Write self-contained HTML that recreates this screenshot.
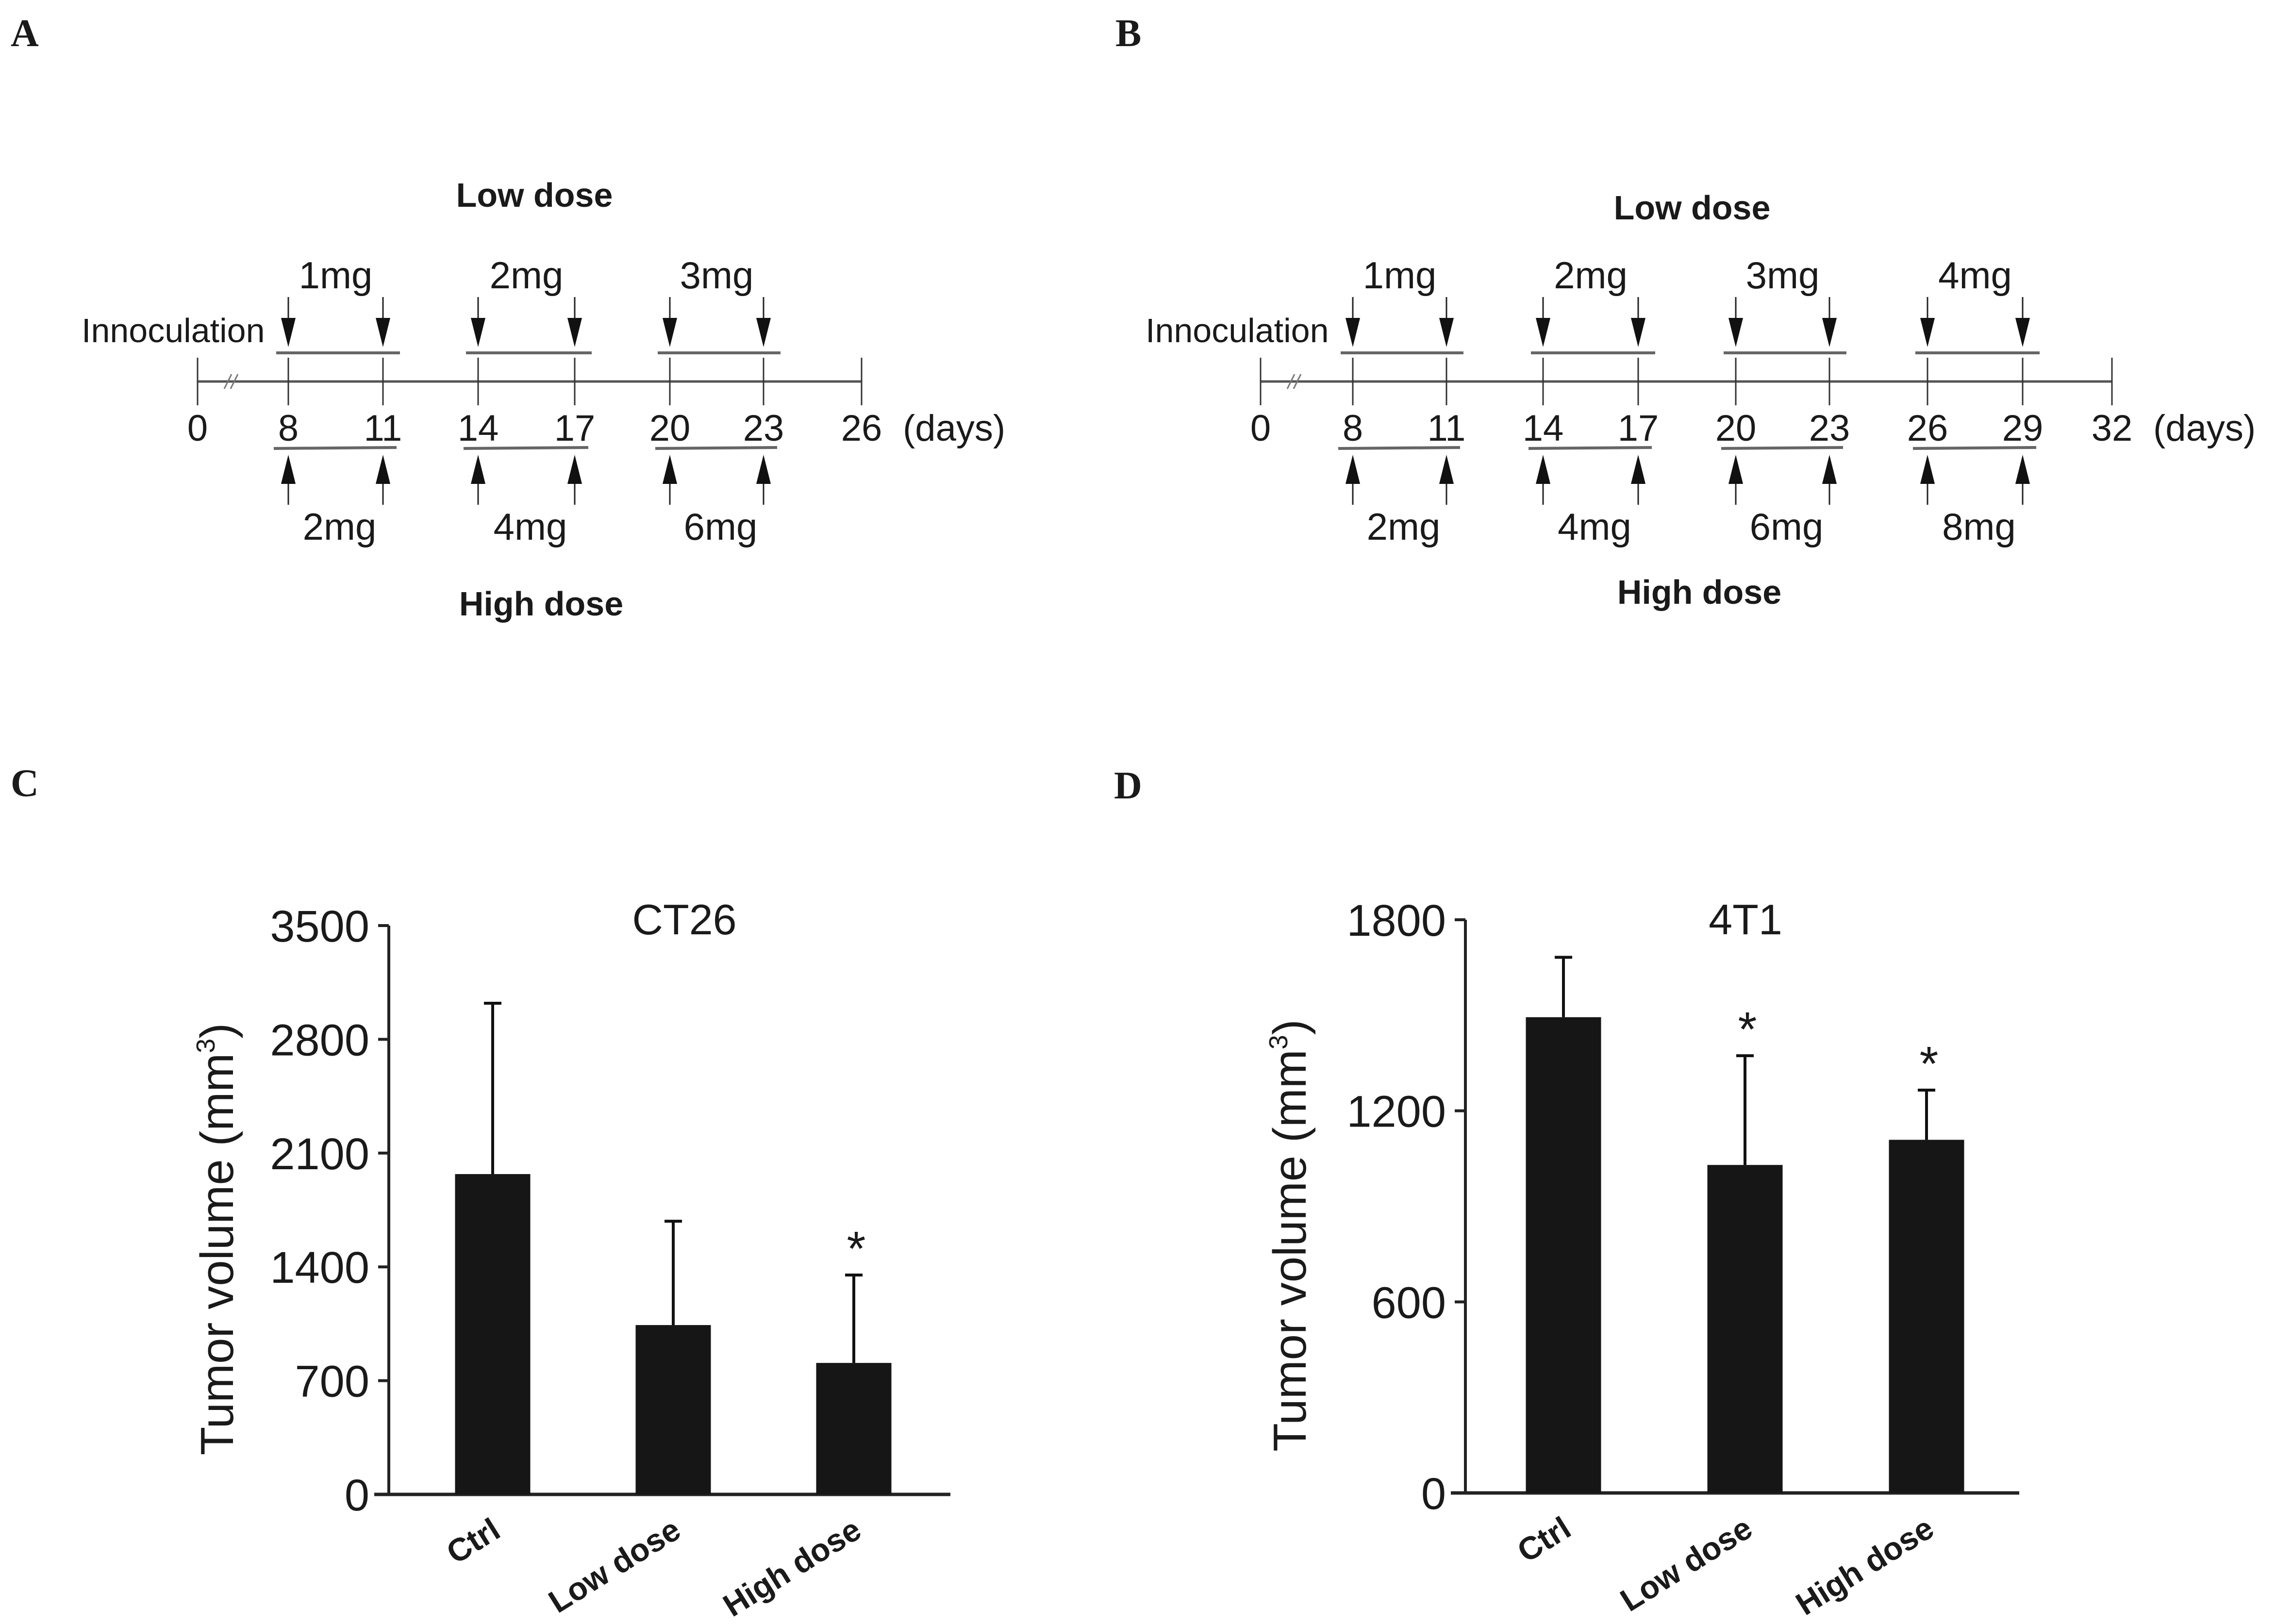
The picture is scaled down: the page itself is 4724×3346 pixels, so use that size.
<!DOCTYPE html>
<html><head><meta charset="utf-8"><style>
html,body{margin:0;padding:0;background:#fff;}
svg{display:block;}
text{font-family:"Liberation Sans",sans-serif;fill:#1a1a1a;}
</style></head><body>
<svg id="fig" width="4724" height="3346" viewBox="0 0 4724 3346" xmlns="http://www.w3.org/2000/svg">
<text x="22" y="95" font-weight="bold" font-size="80" style="font-family:'Liberation Serif',serif">A</text>
<text x="2298" y="95" font-weight="bold" font-size="80" style="font-family:'Liberation Serif',serif">B</text>
<text x="22" y="1640" font-weight="bold" font-size="80" style="font-family:'Liberation Serif',serif">C</text>
<text x="2295" y="1645" font-weight="bold" font-size="80" style="font-family:'Liberation Serif',serif">D</text>
</svg>
<script>
// ---- Timeline data ----
var daysA = [0, 8, 11, 14, 17, 20, 23, 26];
var daysAx = [407, 594, 789, 985, 1184, 1380, 1573, 1775];
var lowDosesA = ["1mg", "2mg", "3mg"];
var highDosesA = ["2mg", "4mg", "6mg"];
var daysB = [0, 8, 11, 14, 17, 20, 23, 26, 29, 32];
var daysBx = [2597, 2787, 2980, 3179, 3375, 3576, 3769, 3971, 4167, 4351];
var lowDosesB = ["1mg", "2mg", "3mg", "4mg"];
var highDosesB = ["2mg", "4mg", "6mg", "8mg"];

// ---- Bar chart data ----
var categories = ["Ctrl", "Low dose", "High dose"];
var ct26Values = [1971, 1042, 809];
var ct26Err = [1051, 639, 541];
var ct26Sig = [false, false, true];
var ct26Ticks = [0, 700, 1400, 2100, 2800, 3500];
var t41Values = [1494, 1030, 1109];
var t41Err = [188, 343, 156];
var t41Sig = [false, true, true];
var t41Ticks = [0, 600, 1200, 1800];

var NS = "http://www.w3.org/2000/svg";
var svg = document.getElementById("fig");
function mk(tag, attrs, parent) {
  var e = document.createElementNS(NS, tag);
  for (var k in attrs) e.setAttribute(k, attrs[k]);
  (parent || svg).appendChild(e);
  return e;
}
function txt(x, y, s, size, extra, parent) {
  var t = mk("text", Object.assign({x: x, y: y, "font-size": size}, extra || {}), parent);
  t.textContent = s;
  return t;
}

function timeline(name, days, xs, lowD, highD, lowTitle, highTitle, innoX) {
  var g = mk("g", {});
  
  
  var y = 786;
  var ln = mk("line", {x1: xs[0], y1: y, x2: xs[xs.length - 1], y2: y, stroke: "#555", "stroke-width": 5}, g);
  
  
  mk("line", {x1: xs[0] + 55, y1: y + 15, x2: xs[0] + 70, y2: y - 15, stroke: "#777", "stroke-width": 3}, g);
  mk("line", {x1: xs[0] + 68, y1: y + 15, x2: xs[0] + 83, y2: y - 15, stroke: "#777", "stroke-width": 3}, g);
  for (var i = 0; i < days.length; i++) {
    var tk = mk("line", {x1: xs[i], y1: 737, x2: xs[i], y2: 835, stroke: "#333", "stroke-width": 3}, g);
    
    
    var lb = txt(xs[i], 908, String(days[i]), 76, {"text-anchor": "middle"}, g);
    
    
  }
  var dl = txt(xs[xs.length - 1] + 85, 908, "(days)", 76, {}, g);
  
  
  for (var j = 0; j < lowD.length; j++) {
    var a = xs[1 + 2 * j], b = xs[2 + 2 * j];
    [a, b].forEach(function (x) {
      var ar = mk("g", {}, g);
      
      
      mk("line", {x1: x, y1: 612, x2: x, y2: 680, stroke: "#222", "stroke-width": 3}, ar);
      mk("polygon", {points: (x - 15) + ",655 " + (x + 15) + ",655 " + x + ",715", fill: "#111"}, ar);
      var ar2 = mk("g", {}, g);
      
      
      mk("line", {x1: x, y1: 970, x2: x, y2: 1040, stroke: "#222", "stroke-width": 3}, ar2);
      mk("polygon", {points: (x - 15) + ",997 " + (x + 15) + ",997 " + x + ",937", fill: "#111"}, ar2);
    });
    var br = mk("line", {x1: a - 25, y1: 727, x2: b + 35, y2: 727, stroke: "#666", "stroke-width": 6}, g);
    
    
    var br2 = mk("line", {x1: a - 30, y1: 924, x2: b + 28, y2: 922, stroke: "#666", "stroke-width": 6}, g);
    
    
    var m = txt((a + b) / 2, 594, lowD[j], 78, {"text-anchor": "middle"}, g);
    
    
    var m2 = txt((a + b) / 2 + 8, 1112, highD[j], 78, {"text-anchor": "middle"}, g);
    
    
  }
  var inn = txt(innoX, 705, "Innoculation", 70, {}, g);
  
  
  var lt = txt(lowTitle[0], lowTitle[1], "Low dose", 70, {"text-anchor": "middle", "font-weight": "bold"}, g);
  
  
  var ht = txt(highTitle[0], highTitle[1], "High dose", 70, {"text-anchor": "middle", "font-weight": "bold"}, g);
  
  
}
timeline("timeline-a", daysA, daysAx, lowDosesA, highDosesA, [1101, 426], [1115, 1268], 168);
timeline("timeline-b", daysB, daysBx, lowDosesB, highDosesB, [3486, 452], [3501, 1244], 2360);

function barChart(name, title, vals, errs, sig, ticks, ax) {
  var g = mk("g", {});
  
  
  var maxV = ticks[ticks.length - 1];
  function yS(v) { return ax.y0 - (v / maxV) * (ax.y0 - ax.yTop); }
  var yl = mk("line", {x1: ax.x0, y1: ax.yTop, x2: ax.x0, y2: ax.y0, stroke: "#222", "stroke-width": 6}, g);
  
  
  var xl = mk("line", {x1: ax.x0 - 30, y1: ax.y0, x2: ax.xEnd, y2: ax.y0, stroke: "#222", "stroke-width": 7}, g);
  
  
  ticks.forEach(function (t) {
    var y = yS(t);
    var tk = mk("line", {x1: ax.x0 - 22, y1: y, x2: ax.x0, y2: y, stroke: "#222", "stroke-width": 6}, g);
    
    
    var tl = txt(ax.x0 - 40, y + 33, String(t), 92, {"text-anchor": "end"}, g);
    
    
  });
  var bw = 155;
  for (var i = 0; i < vals.length; i++) {
    var cx = ax.x0 + ax.firstC + i * ax.step;
    var top = yS(vals[i]);
    var eTop = yS(vals[i] + errs[i]);
    var el = mk("line", {x1: cx, y1: eTop, x2: cx, y2: top, stroke: "#111", "stroke-width": 6}, g);
    
    
    var ec = mk("line", {x1: cx - 18, y1: eTop, x2: cx + 18, y2: eTop, stroke: "#111", "stroke-width": 6}, g);
    
    
    var r = mk("rect", {x: cx - bw / 2, y: top, width: bw, height: ax.y0 - top, fill: "#161616"}, g);
    
    
    if (sig[i]) {
      var s = txt(cx + 5, eTop - 20, "*", 100, {"text-anchor": "middle"}, g);
      
      
    }
    var lx = cx + 20, ly = ax.y0 + 85;
    var cl = txt(lx, ly, categories[i], 66, {"text-anchor": "end", "font-weight": "bold", transform: "rotate(-32 " + lx + " " + ly + ")"}, g);
    
    
  }
  var tt = txt(ax.titleX, 1925, title, 88, {"text-anchor": "middle"}, g);
  
  
  var yc = (ax.y0 + ax.yTop) / 2 + 60;
  var ylab = mk("text", {x: ax.yLabX, y: yc, "font-size": 96, "text-anchor": "middle", transform: "rotate(-90 " + ax.yLabX + " " + yc + ")"}, g);
  
  
  ylab.innerHTML = 'Tumor volume (mm<tspan font-size="54" dy="-38">3</tspan><tspan dy="38">)</tspan>';
}
barChart("chart-ct26", "CT26", ct26Values, ct26Err, ct26Sig, ct26Ticks,
  {x0: 801, y0: 3079, yTop: 1907, xEnd: 1958, firstC: 214, step: 372, titleX: 1410, yLabX: 480});
barChart("chart-4t1", "4T1", t41Values, t41Err, t41Sig, t41Ticks,
  {x0: 3019, y0: 3076, yTop: 1895, xEnd: 4160, firstC: 202, step: 374, titleX: 3596, yLabX: 2690});
</script>
</body></html>
